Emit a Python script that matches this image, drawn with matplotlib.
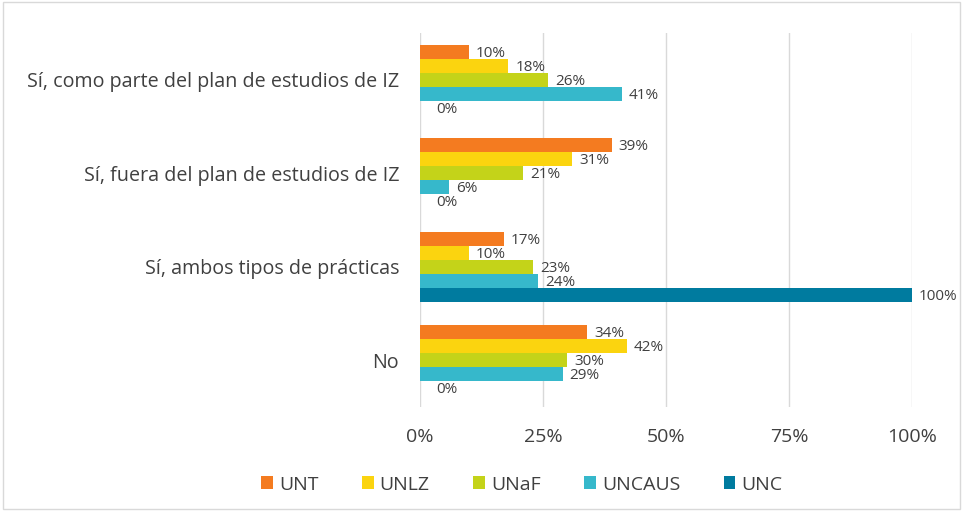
import matplotlib.pyplot as plt
from matplotlib.patches import Rectangle
from matplotlib.ticker import FuncFormatter

plt.rcParams['font.family'] = ['Open Sans', 'DejaVu Sans']

categorias = ['Sí, como parte del plan de estudios de IZ',
              'Sí, fuera del plan de estudios de IZ',
              'Sí, ambos tipos de prácticas',
              'No']
universidades = ['UNT', 'UNLZ', 'UNaF', 'UNCAUS', 'UNC']
valores = {
    'UNT':    [10, 39, 17, 34],
    'UNLZ':   [18, 31, 10, 42],
    'UNaF':   [26, 21, 23, 30],
    'UNCAUS': [41, 6, 24, 29],
    'UNC':    [0, 0, 100, 0],
}
colores = ['#F47B20', '#FBD40F', '#C4D319', '#36B8CB', '#007B9F']

fig = plt.figure(figsize=(9.63, 5.11), dpi=100)
ax = fig.add_axes([0.436, 0.2035, 0.511, 0.7315])
fig.patches.append(Rectangle((0.003, 0.003), 0.994, 0.994, transform=fig.transFigure,
                             fill=False, edgecolor='#D9D9D9', linewidth=1))

alto = 0.15
n = len(universidades)
for j, (u, c) in enumerate(zip(universidades, colores)):
    ys = [i + (j - (n - 1) / 2) * alto for i in range(len(categorias))]
    barras = ax.barh(ys, valores[u], height=alto, color=c, label=u, zorder=3)
    for b, v in zip(barras, valores[u]):
        off = 12 if v == 0 else 5
        ax.annotate(f'{v}%', (v, b.get_y() + b.get_height() / 2),
                    xytext=(off, -1), textcoords='offset points',
                    va='center', ha='left', fontsize=11, color='#404040')

ax.set_yticks(range(len(categorias)))
ax.set_yticklabels(categorias, fontsize=14.2, color='#404040')
ax.set_ylim(len(categorias) - 0.5, -0.5)
ax.set_xlim(0, 100)
ax.set_xticks([0, 25, 50, 75, 100])
ax.xaxis.set_major_formatter(FuncFormatter(lambda x, p: f'{int(x)}%'))
ax.tick_params(axis='x', labelsize=14, colors='#404040', length=0, pad=15)
ax.tick_params(axis='y', length=0, pad=15)
ax.grid(axis='x', color='#D9D9D9', linewidth=1, zorder=0)
for s in ax.spines.values():
    s.set_visible(False)

fig.legend(loc='lower center', bbox_to_anchor=(0.542, 0.0), ncol=5, frameon=False,
           fontsize=14, handlelength=0.6, handleheight=0.6, columnspacing=2.25,
           handletextpad=0.3, labelcolor='#404040')

fig.savefig('out.png', dpi=100)
